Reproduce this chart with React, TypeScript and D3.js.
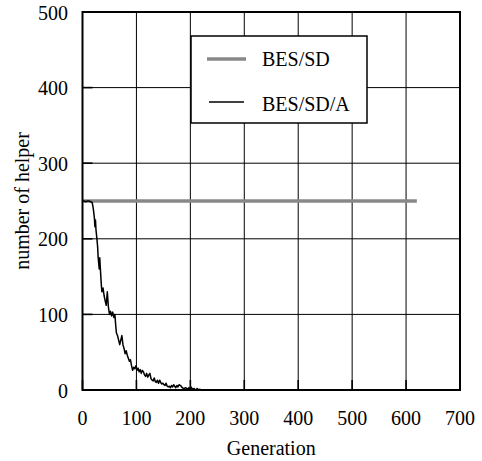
import * as d3 from "d3";

const xTicks = [0, 100, 200, 300, 400, 500, 600, 700];
const yTicks = [0, 100, 200, 300, 400, 500];

// BES/SD: constant number of helpers
const besGen = [0, 620];
const besVal = [250, 250];

// BES/SD/A: helpers decay towards zero
const besAGen = [
  0, 3, 6, 9, 12, 15, 18, 20, 22, 23, 24, 25, 26, 27, 28, 29, 30, 31, 32, 33, 34, 35, 36, 38, 40, 42, 44, 46,
  48, 50, 52, 54, 56, 58, 60, 62, 63, 65, 67, 69, 71, 73, 75, 77, 79, 81, 83, 85, 87, 89, 91, 93, 95, 97, 99,
  101, 103, 105, 107, 109, 111, 113, 115, 117, 119, 121, 123, 125, 127, 129, 131, 133, 135, 137, 139, 141,
  143, 145, 147, 149, 151, 153, 155, 157, 159, 161, 163, 165, 167, 169, 171, 173, 175, 177, 179, 181, 183,
  185, 187, 189, 191, 193, 195, 197, 199, 201, 203, 205, 207, 209, 211, 213, 215, 218, 220, 620,
];
const besAVal = [
  250, 250, 249, 250, 250, 249, 248, 240, 228, 216, 225, 212, 205, 198, 190, 176, 168, 160, 175, 162, 150,
  138, 130, 135, 125, 118, 112, 130, 110, 100, 104, 98, 103, 96, 100, 82, 75, 72, 66, 60, 66, 72, 60, 55, 48,
  52, 46, 42, 38, 40, 32, 26, 30, 28, 32, 26, 29, 24, 27, 22, 26, 24, 20, 18, 22, 17, 20, 22, 15, 13, 12, 16,
  11, 10, 13, 9, 13, 10, 8, 9, 7, 6, 9, 5, 4, 5, 3, 6, 4, 7, 5, 3, 6, 4, 7, 6, 5, 3, 2, 2, 3, 2, 1, 3, 1, 4, 2,
  1, 2, 0, 1, 2, 0, 1, 0, 0,
];

const W = 482;
const H = 461;
const m = { left: 82.5, right: 460, top: 12, bottom: 390 };
const txt = { fontFamily: "Liberation Serif, Times New Roman, serif", fontSize: 20 };

export default function App() {
  const x = d3.scaleLinear().domain([0, 700]).range([m.left, m.right]);
  const y = d3.scaleLinear().domain([0, 500]).range([m.bottom, m.top]);

  const besPath = d3
    .line<number>()
    .x((g) => x(g))
    .y((_, i) => y(besVal[i]))(besGen);
  const besAPath = d3
    .line<number>()
    .x((g) => x(g))
    .y((_, i) => y(besAVal[i]))(besAGen);

  return (
    <svg
      width={W}
      height={H}
      viewBox={`0 0 ${W} ${H}`}
      style={{ position: "absolute", left: 0, top: 0, background: "#fff" }}
    >
      <rect width={W} height={H} fill="#fff" />
      {/* grid */}
      {xTicks.map((t) => (
        <line key={"gx" + t} x1={x(t)} x2={x(t)} y1={m.top} y2={m.bottom} stroke="#000" strokeWidth={1} />
      ))}
      {yTicks.map((t) => (
        <line key={"gy" + t} x1={m.left} x2={m.right} y1={y(t)} y2={y(t)} stroke="#000" strokeWidth={1} />
      ))}
      {/* inward ticks */}
      {yTicks.map((t) => (
        <line key={"ty" + t} x1={m.left} x2={m.left + 10} y1={y(t)} y2={y(t)} stroke="#000" strokeWidth={1.6} />
      ))}
      {xTicks.map((t) => (
        <line key={"tx" + t} x1={x(t)} x2={x(t)} y1={m.bottom} y2={m.bottom - 10} stroke="#000" strokeWidth={1.6} />
      ))}

      {/* series */}
      <path d={besPath ?? ""} fill="none" stroke="#888" strokeWidth={3.5} />
      <path d={besAPath ?? ""} fill="none" stroke="#000" strokeWidth={1.5} strokeLinejoin="round" />

      {/* frame */}
      <rect
        x={m.left}
        y={m.top}
        width={m.right - m.left}
        height={m.bottom - m.top}
        fill="none"
        stroke="#000"
        strokeWidth={2}
      />

      {/* tick labels */}
      {yTicks.map((t) => (
        <text key={"ly" + t} x={68} y={y(t) + 7.5} textAnchor="end" style={txt}>
          {t}
        </text>
      ))}
      {xTicks.map((t) => (
        <text key={"lx" + t} x={x(t)} y={425} textAnchor="middle" style={txt}>
          {t}
        </text>
      ))}
      <text x={(m.left + m.right) / 2} y={455} textAnchor="middle" style={txt}>
        Generation
      </text>
      <text transform={`translate(29,${(m.top + m.bottom) / 2}) rotate(-90)`} textAnchor="middle" style={txt}>
        number of helper
      </text>

      {/* legend */}
      <rect x={191} y={36} width={176} height={87} fill="#fff" stroke="#000" strokeWidth={1.5} />
      <line x1={207} x2={246} y1={59} y2={59} stroke="#888" strokeWidth={3.5} />
      <text x={262} y={66} style={txt}>
        BES/SD
      </text>
      <line x1={209} x2={244} y1={102} y2={102} stroke="#000" strokeWidth={1.5} />
      <text x={262} y={110.5} style={txt}>
        BES/SD/A
      </text>
    </svg>
  );
}
